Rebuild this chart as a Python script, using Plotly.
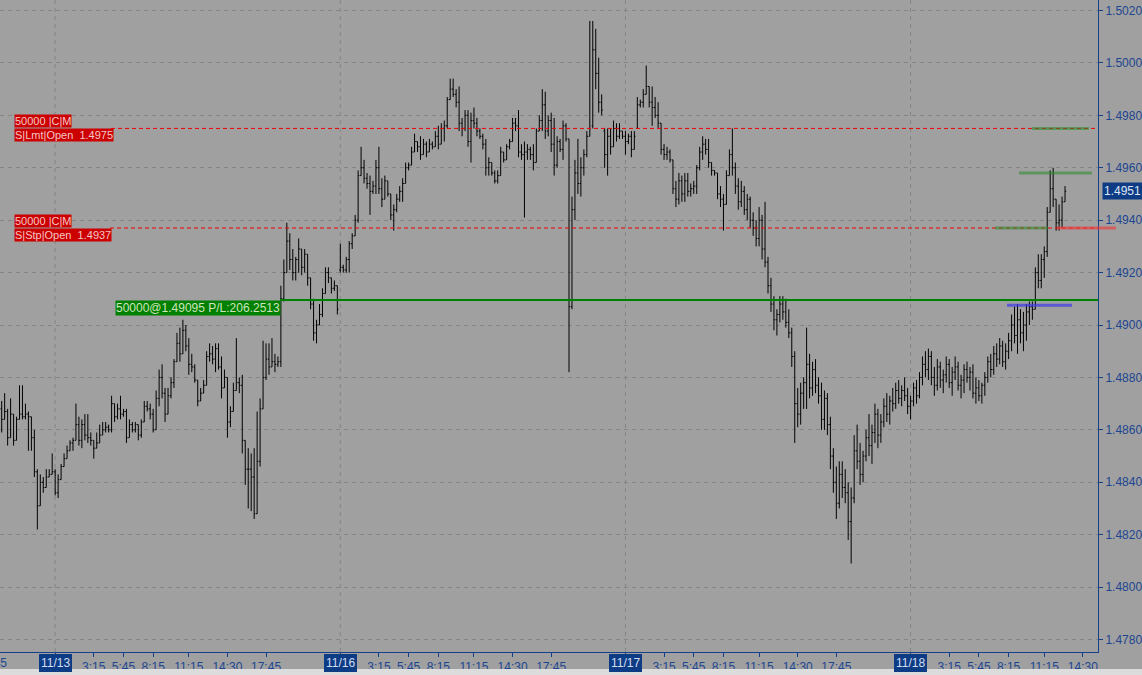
import plotly.graph_objects as go

# ---------------- data (15-minute bars) ----------------
opens = [
 1.4868,1.4864,1.4867,1.4857,1.4866,1.4856,1.4864,1.4866,1.4865,1.4866,
 1.4865,1.4857,1.4844,1.4831,1.4840,1.4838,1.4842,1.4843,1.4844,1.4836,
 1.4841,1.4846,1.4849,1.4852,1.4855,1.4856,1.4862,1.4856,1.4862,1.4858,
 1.4857,1.4856,1.4853,1.4855,1.4858,1.4860,1.4861,1.4860,1.4870,1.4865,
 1.4868,1.4866,1.4867,1.4857,1.4862,1.4860,1.4862,1.4858,1.4863,1.4869,
 1.4868,1.4866,1.4860,1.4872,1.4880,1.4874,1.4866,1.4873,1.4878,1.4886,
 1.4893,1.4889,1.4898,1.4892,1.4885,1.4884,1.4879,1.4871,1.4874,1.4877,
 1.4888,1.4889,1.4887,1.4891,1.4884,1.4876,1.4880,1.4863,1.4867,1.4875,
 1.4878,1.4877,1.4856,1.4845,1.4845,1.4842,1.4828,1.4848,1.4868,1.4880,
 1.4887,1.4884,1.4886,1.4885,1.4886,1.4910,1.4920,1.4932,1.4925,1.4920,
 1.4925,1.4929,1.4922,1.4927,1.4918,1.4908,1.4897,1.4900,1.4904,1.4912,
 1.4920,1.4918,1.4914,1.4915,
 1.4921,1.4922,1.4921,1.4925,1.4931,1.4934,1.4940,1.4957,1.4960,1.4956,1.4954,1.4951,
 1.4953,1.4960,1.4952,1.4948,1.4955,1.4950,1.4942,1.4944,1.4948,1.4951,
 1.4954,1.4960,1.4961,1.4966,1.4970,1.4968,1.4965,1.4969,1.4966,1.4969,
 1.4968,1.4972,1.4969,1.4975,1.4976,1.4986,1.4990,1.4988,1.4985,1.4977,
 1.4975,1.4980,1.4970,1.4978,1.4977,1.4974,1.4972,1.4969,1.4960,1.4962,
 1.4958,1.4955,1.4957,1.4966,1.4963,1.4968,1.4970,1.4977,1.4976,1.4966,
 1.4965,1.4966,1.4967,1.4965,1.4962,1.4974,1.4978,1.4984,1.4974,1.4978,
 1.4969,1.4961,1.4970,1.4967,1.4976,1.4971,
 1.4907,1.4944,1.4958,1.4954,1.4960,1.4965,1.4972,1.4976,1.5005,1.4996,
 1.4985,1.4974,1.4965,1.4972,1.4968,1.4975,1.4972,1.4974,1.4972,1.4970,
 1.4972,1.4967,1.4975,1.4984,1.4985,1.4988,1.4991,1.4985,1.4983,1.4980,
 1.4977,1.4967,1.4965,1.4966,1.4963,1.4952,1.4948,1.4955,1.4950,1.4955,
 1.4951,1.4952,1.4953,1.4960,1.4966,1.4969,1.4967,1.4962,1.4959,1.4958,
 1.4950,1.4948,1.4946,1.4957,1.4965,
 1.4960,1.4953,1.4947,1.4951,1.4944,1.4948,1.4940,1.4937,1.4933,1.4940,
 1.4929,1.4924,1.4915,1.4908,1.4902,1.4904,1.4908,1.4905,1.4901,1.4897,
 1.4888,1.4870,1.4866,1.4874,1.4878,1.4885,1.4876,1.4883,1.4877,1.4873,
 1.4864,1.4872,1.4862,1.4850,1.4840,1.4832,1.4843,1.4838,1.4836,1.4825,
 1.4834,1.4852,1.4848,1.4843,1.4850,1.4857,1.4854,1.4859,1.4866,1.4858,
 1.4863,1.4869,1.4866,1.4871,1.4870,1.4875,1.4872,1.4875,1.4873,1.4869,
 1.4871,1.4876,1.4873,1.4880,1.4885,1.4883,1.4888,1.4880,1.4877,1.4884,
 1.4879,1.4881,1.4885,1.4878,1.4882,1.4884,1.4877,1.4879,1.4883,1.4880,
 1.4882,1.4874,1.4876,1.4873,1.4877,1.4880,1.4886,1.4883,1.4889,1.4887,
 1.4892,1.4886,1.4890,1.4894,1.4900,1.4896,1.4902,1.4897,1.4900,1.4905,
 1.4907,1.4906,1.4920,1.4917,1.4925,1.4928,1.4943,1.4952,1.4948,1.4939,
 1.4940,1.4947,
]
highs = [
 1.4871,1.4874,1.4868,1.4872,1.4866,1.4865,1.4877,1.4877,1.4870,1.4867,
 1.4865,1.4860,1.4845,1.4843,1.4842,1.4845,1.4845,1.4851,1.4845,1.4843,
 1.4847,1.4851,1.4854,1.4856,1.4857,1.4870,1.4865,1.4864,1.4866,1.4866,
 1.4859,1.4856,1.4859,1.4862,1.4863,1.4863,1.4862,1.4873,1.4870,1.4870,
 1.4873,1.4868,1.4868,1.4864,1.4863,1.4863,1.4862,1.4864,1.4871,1.4871,
 1.4870,1.4868,1.4875,1.4883,1.4885,1.4876,1.4876,1.4880,1.4887,1.4897,
 1.4899,1.4902,1.4900,1.4895,1.4889,1.4885,1.4879,1.4876,1.4879,1.4890,
 1.4893,1.4892,1.4893,1.4893,1.4888,1.4883,1.4880,1.4869,1.4878,1.4895,
 1.4880,1.4881,1.4856,1.4853,1.4851,1.4853,1.4867,1.4872,1.4894,1.4893,
 1.4893,1.4895,1.4889,1.4888,1.4915,1.4925,1.4939,1.4935,1.4929,1.4926,
 1.4933,1.4929,1.4929,1.4927,1.4918,1.4910,1.4902,1.4908,1.4914,1.4922,
 1.4922,1.4918,1.4917,1.4915,
 1.4931,1.4923,1.4926,1.4932,1.4935,1.4942,1.4959,1.4968,1.4963,1.4958,1.4957,1.4955,
 1.4963,1.4968,1.4956,1.4957,1.4955,1.4950,1.4946,1.4950,1.4953,1.4956,
 1.4962,1.4962,1.4968,1.4973,1.4970,1.4972,1.4971,1.4970,1.4971,1.4970,
 1.4974,1.4976,1.4977,1.4978,1.4987,1.4994,1.4994,1.4990,1.4991,1.4979,
 1.4982,1.4982,1.4981,1.4983,1.4979,1.4975,1.4973,1.4971,1.4964,1.4962,
 1.4959,1.4959,1.4968,1.4966,1.4969,1.4971,1.4979,1.4979,1.4982,1.4969,
 1.4970,1.4969,1.4968,1.4969,1.4975,1.4980,1.4990,1.4989,1.4980,1.4981,
 1.4979,1.4972,1.4971,1.4978,1.4977,1.4971,
 1.4949,1.4963,1.4971,1.4964,1.4967,1.4974,1.5016,1.5016,1.5013,1.5002,
 1.4988,1.4975,1.4975,1.4975,1.4978,1.4977,1.4977,1.4974,1.4974,1.4973,
 1.4974,1.4974,1.4987,1.4986,1.4990,1.4999,1.4991,1.4991,1.4987,1.4985,
 1.4977,1.4969,1.4968,1.4967,1.4963,1.4955,1.4958,1.4957,1.4958,1.4958,
 1.4954,1.4955,1.4961,1.4968,1.4972,1.4971,1.4971,1.4962,1.4959,1.4958,
 1.4953,1.4950,1.4959,1.4967,1.4975,
 1.4962,1.4956,1.4955,1.4953,1.4950,1.4949,1.4943,1.4940,1.4945,1.4942,
 1.4947,1.4926,1.4918,1.4911,1.4906,1.4911,1.4911,1.4910,1.4906,1.4899,
 1.4890,1.4876,1.4878,1.4880,1.4899,1.4889,1.4886,1.4887,1.4880,1.4878,
 1.4875,1.4874,1.4865,1.4853,1.4846,1.4848,1.4848,1.4845,1.4840,1.4838,
 1.4858,1.4862,1.4855,1.4852,1.4860,1.4866,1.4862,1.4870,1.4868,1.4866,
 1.4872,1.4874,1.4873,1.4876,1.4878,1.4879,1.4877,1.4880,1.4876,1.4873,
 1.4878,1.4879,1.4882,1.4888,1.4890,1.4891,1.4890,1.4884,1.4887,1.4886,
 1.4883,1.4888,1.4887,1.4884,1.4888,1.4886,1.4881,1.4885,1.4886,1.4884,
 1.4885,1.4880,1.4879,1.4878,1.4882,1.4888,1.4889,1.4892,1.4893,1.4895,
 1.4894,1.4893,1.4897,1.4904,1.4907,1.4908,1.4906,1.4905,1.4908,1.4909,
 1.4909,1.4922,1.4927,1.4927,1.4930,1.4945,1.4959,1.4960,1.4948,1.4946,
 1.4949,1.4953,
]
lows = [
 1.4859,1.4864,1.4854,1.4857,1.4854,1.4856,1.4864,1.4864,1.4864,1.4852,
 1.4852,1.4842,1.4822,1.4831,1.4836,1.4838,1.4842,1.4843,1.4835,1.4834,
 1.4841,1.4846,1.4849,1.4852,1.4852,1.4856,1.4854,1.4853,1.4856,1.4855,
 1.4854,1.4849,1.4853,1.4855,1.4858,1.4859,1.4859,1.4859,1.4863,1.4864,
 1.4864,1.4865,1.4855,1.4857,1.4859,1.4859,1.4856,1.4857,1.4863,1.4867,
 1.4864,1.4859,1.4860,1.4869,1.4872,1.4863,1.4866,1.4872,1.4876,1.4886,
 1.4886,1.4889,1.4890,1.4881,1.4882,1.4878,1.4869,1.4871,1.4874,1.4877,
 1.4886,1.4885,1.4882,1.4883,1.4872,1.4876,1.4857,1.4861,1.4867,1.4875,
 1.4874,1.4851,1.4839,1.4830,1.4829,1.4826,1.4828,1.4846,1.4868,1.4879,
 1.4881,1.4884,1.4882,1.4884,1.4884,1.4909,1.4920,1.4921,1.4917,1.4917,
 1.4920,1.4919,1.4920,1.4915,1.4906,1.4894,1.4893,1.4900,1.4903,1.4912,
 1.4916,1.4912,1.4913,1.4904,
 1.4920,1.4920,1.4920,1.4920,1.4929,1.4934,1.4939,1.4957,1.4954,1.4952,1.4942,1.4950,
 1.4950,1.4950,1.4945,1.4948,1.4949,1.4940,1.4936,1.4943,1.4947,1.4947,
 1.4954,1.4959,1.4961,1.4966,1.4966,1.4963,1.4965,1.4964,1.4966,1.4967,
 1.4968,1.4967,1.4969,1.4970,1.4975,1.4986,1.4987,1.4983,1.4974,1.4972,
 1.4974,1.4968,1.4962,1.4975,1.4972,1.4971,1.4967,1.4957,1.4957,1.4957,
 1.4954,1.4954,1.4957,1.4962,1.4963,1.4967,1.4970,1.4974,1.4964,1.4963,
 1.4941,1.4963,1.4963,1.4959,1.4962,1.4974,1.4974,1.4971,1.4972,1.4966,
 1.4957,1.4960,1.4966,1.4963,1.4970,1.4882,
 1.4906,1.4940,1.4950,1.4949,1.4957,1.4964,1.4972,1.4975,1.4990,1.4981,
 1.4980,1.4960,1.4957,1.4965,1.4968,1.4970,1.4971,1.4971,1.4965,1.4969,
 1.4964,1.4967,1.4975,1.4983,1.4983,1.4988,1.4983,1.4976,1.4979,1.4975,
 1.4965,1.4963,1.4963,1.4962,1.4950,1.4945,1.4946,1.4947,1.4947,1.4949,
 1.4949,1.4950,1.4950,1.4959,1.4963,1.4965,1.4960,1.4957,1.4957,1.4948,
 1.4945,1.4936,1.4946,1.4957,1.4957,
 1.4950,1.4944,1.4945,1.4942,1.4940,1.4937,1.4934,1.4930,1.4930,1.4925,
 1.4922,1.4912,1.4905,1.4898,1.4896,1.4901,1.4902,1.4899,1.4895,1.4884,
 1.4855,1.4861,1.4862,1.4868,1.4868,1.4872,1.4873,1.4874,1.4870,1.4860,
 1.4860,1.4858,1.4845,1.4836,1.4826,1.4830,1.4834,1.4832,1.4818,1.4809,
 1.4832,1.4845,1.4839,1.4840,1.4848,1.4850,1.4847,1.4855,1.4853,1.4855,
 1.4861,1.4863,1.4862,1.4867,1.4868,1.4870,1.4869,1.4871,1.4866,1.4864,
 1.4869,1.4870,1.4872,1.4877,1.4880,1.4879,1.4877,1.4873,1.4875,1.4876,
 1.4874,1.4878,1.4876,1.4873,1.4879,1.4875,1.4872,1.4874,1.4878,1.4875,
 1.4872,1.4870,1.4871,1.4870,1.4873,1.4878,1.4880,1.4881,1.4884,1.4885,
 1.4884,1.4883,1.4887,1.4890,1.4893,1.4889,1.4893,1.4890,1.4894,1.4900,
 1.4902,1.4906,1.4914,1.4914,1.4918,1.4926,1.4943,1.4945,1.4936,1.4936,
 1.4937,1.4947,
]
closes = [
 1.4864,1.4867,1.4857,1.4866,1.4856,1.4864,1.4866,1.4865,1.4866,1.4865,
 1.4857,1.4844,1.4831,1.4840,1.4838,1.4842,1.4843,1.4844,1.4836,1.4841,
 1.4846,1.4849,1.4852,1.4855,1.4856,1.4862,1.4856,1.4862,1.4858,1.4857,
 1.4856,1.4853,1.4855,1.4858,1.4860,1.4861,1.4860,1.4870,1.4865,1.4868,
 1.4866,1.4867,1.4857,1.4862,1.4860,1.4862,1.4858,1.4863,1.4869,1.4868,
 1.4866,1.4860,1.4872,1.4880,1.4874,1.4866,1.4873,1.4878,1.4886,1.4893,
 1.4889,1.4898,1.4892,1.4885,1.4884,1.4879,1.4871,1.4874,1.4877,1.4888,
 1.4889,1.4887,1.4891,1.4884,1.4876,1.4880,1.4863,1.4867,1.4875,1.4878,
 1.4877,1.4856,1.4845,1.4845,1.4842,1.4828,1.4848,1.4868,1.4880,1.4887,
 1.4884,1.4886,1.4885,1.4886,1.4910,1.4920,1.4932,1.4925,1.4920,1.4925,
 1.4929,1.4922,1.4927,1.4918,1.4908,1.4897,1.4900,1.4904,1.4912,1.4920,
 1.4918,1.4914,1.4915,1.4906,
 1.4922,1.4921,1.4925,1.4931,1.4934,1.4940,1.4957,1.4960,1.4956,1.4954,1.4951,1.4953,
 1.4960,1.4952,1.4948,1.4955,1.4950,1.4942,1.4944,1.4948,1.4951,1.4954,
 1.4960,1.4961,1.4966,1.4970,1.4968,1.4965,1.4969,1.4966,1.4969,1.4968,
 1.4972,1.4969,1.4975,1.4976,1.4986,1.4990,1.4988,1.4985,1.4977,1.4975,
 1.4980,1.4970,1.4978,1.4977,1.4974,1.4972,1.4969,1.4960,1.4962,1.4958,
 1.4955,1.4957,1.4966,1.4963,1.4968,1.4970,1.4977,1.4976,1.4966,1.4965,
 1.4966,1.4967,1.4965,1.4962,1.4974,1.4978,1.4984,1.4974,1.4978,1.4969,
 1.4961,1.4970,1.4967,1.4976,1.4971,1.4907,
 1.4944,1.4958,1.4954,1.4960,1.4965,1.4972,1.4975,1.5005,1.4996,1.4985,
 1.4982,1.4965,1.4972,1.4968,1.4975,1.4972,1.4974,1.4972,1.4970,1.4972,
 1.4967,1.4972,1.4984,1.4985,1.4988,1.4991,1.4985,1.4983,1.4980,1.4977,
 1.4967,1.4965,1.4966,1.4963,1.4952,1.4948,1.4955,1.4950,1.4955,1.4951,
 1.4952,1.4953,1.4960,1.4966,1.4969,1.4967,1.4962,1.4959,1.4958,1.4950,
 1.4948,1.4946,1.4957,1.4965,1.4960,
 1.4953,1.4947,1.4951,1.4944,1.4948,1.4940,1.4937,1.4933,1.4940,1.4929,
 1.4924,1.4915,1.4908,1.4902,1.4904,1.4908,1.4905,1.4901,1.4897,1.4888,
 1.4870,1.4866,1.4874,1.4878,1.4885,1.4876,1.4883,1.4877,1.4873,1.4864,
 1.4872,1.4862,1.4850,1.4840,1.4832,1.4843,1.4838,1.4836,1.4825,1.4834,
 1.4852,1.4848,1.4843,1.4850,1.4857,1.4854,1.4859,1.4866,1.4858,1.4863,
 1.4869,1.4866,1.4871,1.4870,1.4875,1.4872,1.4875,1.4873,1.4869,1.4871,
 1.4876,1.4873,1.4880,1.4885,1.4883,1.4888,1.4880,1.4877,1.4884,1.4879,
 1.4881,1.4885,1.4878,1.4882,1.4884,1.4877,1.4879,1.4883,1.4880,1.4882,
 1.4874,1.4876,1.4873,1.4877,1.4880,1.4886,1.4883,1.4889,1.4887,1.4892,
 1.4886,1.4890,1.4894,1.4900,1.4896,1.4902,1.4897,1.4900,1.4905,1.4907,
 1.4906,1.4920,1.4917,1.4925,1.4928,1.4943,1.4952,1.4948,1.4939,1.4940,
 1.4947,1.4951,
]

# session structure: 15-minute bars, first bar 11/12 19:30, days below start at 00:00
bars_before_first_day = 18
bars_per_day = 96
day_labels = ["11/13", "11/16", "11/17", "11/18"]
time_labels = ["3:15", "5:45", "8:15", "11:15", "14:30", "17:45"]
last_price = 1.4951

# working orders / position
limit_price = 1.4975
stop_price = 1.4937
position_price = 1.49095
order_label_top = "50000 |C|M"
limit_label = "S|Lmt|Open\u00a0\u00a01.4975"
stop_label = "S|Stp|Open\u00a0\u00a01.4937"
position_label = "50000@1.49095 P/L:206.2513"
# short marker segments at right edge: (price, colour, x from px, x to px)
markers = [
    (1.4975, "rgba(40,140,40,0.55)", 1032, 1089),
    (1.4958, "rgba(40,140,40,0.55)", 1019, 1092),
    (1.4937, "rgba(40,140,40,0.55)", 995, 1048),
    (1.4937, "rgba(235,60,60,0.65)", 1057, 1116),
    (1.49075, "rgba(60,60,235,0.7)", 1007, 1072),
]

# ---------------- styling ----------------
BG = "#a0a0a0"
GRID = "#858585"
AXIS = "#163f8a"
TXT = "#1d4690"
BOX = "#0d3c85"
RED = "#ee0000"
FONT = "Liberation Sans"
W, H = 1142, 675
ML, MR, MT, MB = 0, 44, 0, 23
PW = W - ML - MR
PH = H - MT - MB

n = len(closes)
xs = list(range(n))
x_min, x_max = -0.57, 369.1
y_min, y_max = 1.477524, 1.502400


def px(v):
    return v / PW


fig = go.Figure()
fig.add_trace(go.Ohlc(
    x=xs, open=opens, high=highs, low=lows, close=closes,
    increasing=dict(line=dict(color="#000000", width=1)),
    decreasing=dict(line=dict(color="#000000", width=1)),
    tickwidth=0.4, hoverinfo="skip", showlegend=False,
))

# x ticks
tickvals, ticktext = [], []
day_pos = []
minutes = [(int(t.split(":")[0]) * 60 + int(t.split(":")[1])) for t in time_labels]
for i, d in enumerate(day_labels):
    start = bars_before_first_day + bars_per_day * i
    day_pos.append(start)
    tickvals.append(start)
    ticktext.append("")
    for t, m in zip(time_labels, minutes):
        p = start + m / 15
        if p < x_max - 2:
            tickvals.append(p)
            ticktext.append(t)

shapes = []
for p in day_pos:
    shapes.append(dict(type="line", xref="x", yref="paper", x0=p, x1=p, y0=0, y1=1,
                       line=dict(color=GRID, width=1, dash="4px,4px"), layer="below"))

# order lines
for price, start_px in [(limit_price, 111), (stop_price, 110)]:
    shapes.append(dict(type="line", xref="paper", yref="y", x0=px(start_px), x1=1,
                       y0=price, y1=price, layer="above",
                       line=dict(color=RED, width=1, dash="4px,3px")))
shapes.append(dict(type="line", xref="paper", yref="y", x0=px(280), x1=1,
                   y0=position_price, y1=position_price,
                   line=dict(color="#008000", width=2)))
for price, col, a, b in markers:
    shapes.append(dict(type="line", xref="paper", yref="y", x0=px(a), x1=px(b),
                       y0=price, y1=price, line=dict(color=col, width=3)))

# light strip at very bottom (outside chart)
shapes.append(dict(type="rect", xref="paper", yref="paper", x0=-0.01, x1=1.1,
                   y0=-(H - PH) / PH - 0.01, y1=-(669 - PH) / PH,
                   fillcolor="#dcdcdc", line=dict(width=0), layer="above"))

ann = []
lab_y = -(663 - PH) / PH
for p, d in zip(day_pos, day_labels):
    ann.append(dict(x=p, y=lab_y, xref="x", yref="paper", text=d, showarrow=False,
                    xanchor="center", yanchor="middle", bgcolor=BOX, borderpad=2,
                    borderwidth=0,
                    font=dict(family=FONT, size=12, color="#d3ddf0")))
ann.append(dict(x=px(9), y=lab_y, xref="paper", yref="paper", text="17:45", showarrow=False,
                xanchor="right", yanchor="middle",
                font=dict(family=FONT, size=12, color=TXT)))
ann.append(dict(x=px(1102), y=last_price, xref="paper", yref="y", text=f"{last_price:.4f}",
                showarrow=False, xanchor="left", yanchor="middle", bgcolor=BOX, borderpad=1,
                font=dict(family=FONT, size=12, color="#dde6f5")))

red_font = dict(family=FONT, size=11, color="#f3c6c6")
for price, lbl in [(limit_price, limit_label), (stop_price, stop_label)]:
    ann.append(dict(x=px(14), y=price, xref="paper", yref="y", text=order_label_top,
                    showarrow=False, xanchor="left", yanchor="bottom", align="left",
                    bgcolor="#cc0000", borderpad=0, font=red_font))
    ann.append(dict(x=px(14), y=price, xref="paper", yref="y", text=lbl,
                    showarrow=False, xanchor="left", yanchor="top", align="left",
                    bgcolor="#cc0000", borderpad=0, font=red_font))
ann.append(dict(x=px(115), y=position_price, xref="paper", yref="y", text=position_label,
                showarrow=False, xanchor="left", yanchor="top", align="left",
                bgcolor="#008000", borderpad=0,
                font=dict(family=FONT, size=12, color="#cfe3bf")))

fig.update_layout(
    width=W, height=H,
    margin=dict(l=ML, r=MR, t=MT, b=MB, pad=0),
    paper_bgcolor=BG, plot_bgcolor=BG,
    showlegend=False, hovermode=False,
    shapes=shapes, annotations=ann,
    xaxis=dict(range=[x_min, x_max], rangeslider=dict(visible=False),
               showgrid=False, zeroline=False, showline=True, linecolor=AXIS, linewidth=1,
               ticks="outside", ticklen=4, tickcolor=AXIS, tickwidth=1,
               tickvals=tickvals, ticktext=ticktext, automargin=False,
               tickfont=dict(family=FONT, size=12, color=TXT), fixedrange=True),
    yaxis=dict(range=[y_min, y_max], side="right", dtick=0.002, tick0=1.478,
               tickformat=".4f", showgrid=True, gridcolor=GRID, gridwidth=1,
               griddash="4px,4px", zeroline=False, showline=True, linecolor=AXIS,
               linewidth=1, ticks="outside", ticklen=4, tickcolor=AXIS, automargin=False,
               tickfont=dict(family=FONT, size=12, color=TXT), fixedrange=True),
)

fig.write_html(
    "out.html",
    config={"displayModeBar": False},
    post_script="document.body.style.margin='0';document.body.style.overflow='hidden';",
)
